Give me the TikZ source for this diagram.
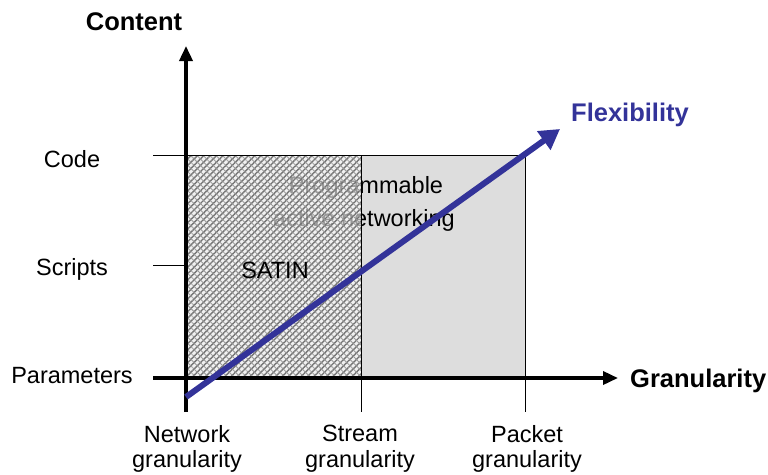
\documentclass[tikz,border=0pt]{standalone}
\usepackage{fontspec}
\setmainfont{Liberation Sans}
\usetikzlibrary{arrows.meta,patterns.meta}
\definecolor{flexblue}{HTML}{333399}
\definecolor{boxgray}{HTML}{DDDDDD}
\tikzset{
  lbl/.style={inner sep=0pt, font=\fontsize{23.5}{25.5}\selectfont},
  axlbl/.style={inner sep=0pt, font=\fontsize{25.5}{28}\selectfont\bfseries},
  axisline/.style={line width=3.5pt, -{Triangle[length=15pt,width=13pt]}},
  thinline/.style={line width=1pt},
  flexarrow/.style={line width=6pt, flexblue, -{Triangle[length=20pt,width=22pt]}},
}
\begin{document}
\begin{tikzpicture}[x=1pt,y=-1pt]
\useasboundingbox (0,0) rectangle (768,474);
% coordinates
\coordinate (ybot) at (186,412);
\coordinate (ytop) at (186,46);
\coordinate (xleft) at (153,378);
\coordinate (xright) at (618,378);
\coordinate (flexstart) at (186,397);
\coordinate (flexend) at (560,129);
% gray box
\draw[thinline, fill=boxgray] (186,155) rectangle (525,378);
% text behind hatch
\node[lbl, anchor=base] (prog) at (366,193) {Programmable};
\node[lbl, anchor=base] (active) at (364,226) {active networking};
% hatched box
\fill[white, fill opacity=0.6] (186,155) rectangle (361,378);
\fill[pattern={Lines[angle=45,distance=4.5pt,line width=1.4pt]}, pattern color=black!55] (186,155) rectangle (361,378);
\fill[pattern={Lines[angle=-45,distance=4.5pt,line width=0.9pt]}, pattern color=black!40] (186,155) rectangle (361,378);
\draw[thinline] (361,155) -- (361,378);
\node[lbl, anchor=base] (satin) at (275,278) {SATIN};
% ticks
\draw[thinline] (153,155) -- (525,155);
\draw[thinline] (153,265) -- (186,265);
\draw[thinline] (361,378) -- (361,412);
\draw[thinline] (525,378) -- (525,412);
% axes
\draw[axisline] (ybot) -- (ytop);
\draw[axisline] (xleft) -- (xright);
% flexibility arrow
\draw[flexarrow] (flexstart) -- (flexend);
% labels
\node[axlbl, anchor=base] (content) at (134,30) {Content};
\node[axlbl, anchor=base west] (gran) at (630,387) {Granularity};
\node[axlbl, anchor=base west, text=flexblue] (flex) at (571,121) {Flexibility};
\node[lbl, anchor=base] (code) at (72,167) {Code};
\node[lbl, anchor=base] (scripts) at (72,275) {Scripts};
\node[lbl, anchor=base] (params) at (72,383) {Parameters};
\node[lbl, anchor=north, align=center] (netg) at (187,425) {Network\\granularity};
\node[lbl, anchor=north, align=center] (streamg) at (360,425) {Stream\\granularity};
\node[lbl, anchor=north, align=center] (packetg) at (527,425) {Packet\\granularity};
\end{tikzpicture}
\end{document}
